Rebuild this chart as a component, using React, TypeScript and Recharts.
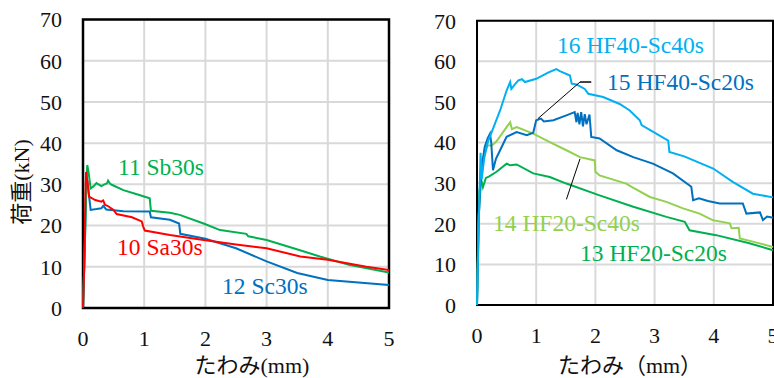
import { LineChart, Line, XAxis, YAxis, CartesianGrid, ReferenceArea, ReferenceLine } from 'recharts';

type Pt = [number, number];

const xTicks = [0, 1, 2, 3, 4, 5];
const yTicks = [0, 10, 20, 30, 40, 50, 60, 70];

// left panel: 10 Sa30s / 11 Sb30s / 12 Sc30s  (deflection mm, load kN)
const sa30s: Pt[] = [
  [0, 0], [0.02, 10], [0.04, 28], [0.05, 33], [0.07, 31], [0.1, 27], [0.2, 26.2], [0.3, 25.8],
  [0.33, 26.1], [0.36, 25], [0.4, 24.8], [0.5, 23.8], [0.55, 22.8], [0.8, 22], [0.96, 21],
  [0.985, 19.7], [1.01, 18.8], [1.42, 17.7], [1.97, 16.5], [2.5, 15.4], [3.0, 14.5], [3.55, 12.5],
  [4.0, 11.7], [4.63, 10], [5.0, 9.2],
];
const sb30s: Pt[] = [
  [0, 0], [0.03, 15], [0.06, 32], [0.07, 34.7], [0.09, 33], [0.125, 29], [0.17, 29.5], [0.22, 30.3],
  [0.3, 29.6], [0.35, 30], [0.39, 30.2], [0.41, 30.9], [0.44, 30.2], [0.47, 29.9], [0.66, 28.6],
  [0.88, 27.6], [1.09, 26.6], [1.11, 23.6], [1.42, 23.1], [1.58, 22.6], [1.97, 20.5], [2.24, 18.9],
  [2.67, 18], [2.7, 17.4], [3.0, 16.5], [3.44, 14.5], [3.87, 12.5], [4.36, 10.4], [5, 8.6],
];
const sc30s: Pt[] = [
  [0, 0], [0.03, 15], [0.05, 29], [0.07, 31], [0.1, 27], [0.125, 23.8], [0.22, 24], [0.3, 24.2],
  [0.33, 24.8], [0.38, 23.9], [0.66, 23.5], [1.09, 23.4], [1.11, 22], [1.42, 21.4], [1.57, 20.5],
  [1.59, 18], [2.0, 16.8], [2.5, 14.5], [3.0, 11.3], [3.5, 8.5], [4.0, 6.8], [4.5, 6.2], [5, 5.6],
];

// right panel: 13–16 HF series
const hf20sc20s: Pt[] = [
  [0, 0], [0.02, 18], [0.04, 28], [0.07, 31], [0.1, 29], [0.15, 31.3], [0.2, 31.6], [0.33, 32.8],
  [0.5, 34.8], [0.56, 34.4], [0.67, 34.6], [0.95, 32.4], [1.23, 31.5], [1.51, 29.9], [2.07, 27],
  [2.64, 24.2], [3.2, 21.7], [3.51, 20.5], [3.59, 18.4], [4.04, 17.2], [4.6, 15.2], [5, 13.5],
];
const hf20sc40s: Pt[] = [
  [0, 0], [0.03, 22], [0.07, 33], [0.12, 37.5], [0.18, 39.3], [0.25, 39.3], [0.33, 40.3],
  [0.5, 43.8], [0.56, 45], [0.59, 43.3], [0.67, 43.8], [0.95, 42.2], [1.23, 40.1], [1.51, 38.1],
  [1.74, 36.4], [1.99, 35.6], [2.0, 32.8], [2.07, 31.9], [2.52, 29.9], [2.62, 29], [2.92, 26.6],
  [3.2, 25.4], [3.48, 23.8], [3.76, 22.5], [3.98, 20.9], [4.27, 20.1], [4.3, 18.9], [4.42, 19],
  [4.44, 16.4], [4.66, 15.6], [5, 14.3],
];
const hf40sc20s: Pt[] = [
  [0, 0], [0.03, 22], [0.08, 34], [0.13, 38.9], [0.18, 41], [0.22, 42.2], [0.24, 40], [0.27, 33.2],
  [0.32, 36], [0.39, 38.1], [0.5, 41.4], [0.67, 42.6], [0.84, 41.8], [0.95, 42.4], [1.0, 45.5],
  [1.08, 45.9], [1.13, 45.2], [1.29, 45.5], [1.51, 46.7], [1.65, 47.5], [1.68, 45], [1.7, 47.3],
  [1.73, 44.5], [1.76, 47.5], [1.79, 44], [1.82, 47], [1.85, 44.5], [1.9, 46.9], [1.93, 41.4],
  [2.07, 41], [2.36, 38.1], [2.64, 36.4], [2.97, 34.8], [3.31, 32.4], [3.62, 29.1], [3.65, 25.8],
  [3.75, 26.3], [3.9, 25.6], [4.1, 25], [4.49, 25], [4.55, 22.5], [4.78, 22.8], [4.83, 20.9],
  [4.9, 21.8], [5, 21.5],
];
const hf40sc40s: Pt[] = [
  [0, 0], [0.03, 20], [0.06, 37.5], [0.08, 31], [0.12, 36], [0.19, 40.5], [0.25, 42.6],
  [0.39, 47.9], [0.5, 52.8], [0.56, 54.9], [0.58, 53.2], [0.65, 54.5], [0.7, 55.3], [0.76, 55.6],
  [0.81, 54.9], [1.0, 55.7], [1.2, 57.2], [1.34, 58.1], [1.4, 57.6], [1.57, 56.5], [1.6, 54.5],
  [1.68, 54.3], [1.82, 53.2], [1.88, 52], [2.13, 51.2], [2.41, 49.5], [2.58, 47.9], [2.75, 45.5],
  [2.78, 44.3], [3.23, 40.5], [3.25, 37.7], [3.5, 36.6], [3.99, 33.6], [4.32, 30.3], [4.66, 27.4],
  [5, 26.5],
];

// leader lines from the right-panel labels to their curves
const leader15: Pt[] = [[1.03, 45.9], [1.74, 54.9], [1.93, 54.9]];
const leader14: Pt[] = [[1.74, 36.0], [1.51, 26.0]];

const serif = 'Liberation Serif, Tinos, DejaVu Serif, serif';
const jpSerif = 'Liberation Serif, Tinos, Noto Sans CJK JP, serif';

const toPts = (s: Pt[]) => s.map(([x, y]) => ({ x, y }));

interface Series { name: string; color: string; pts: Pt[] }

const leftSeries: Series[] = [
  { name: '12 Sc30s', color: '#0070c0', pts: sc30s },
  { name: '11 Sb30s', color: '#00b050', pts: sb30s },
  { name: '10 Sa30s', color: '#ff0000', pts: sa30s },
];
const rightSeries: Series[] = [
  { name: '13 HF20-Sc20s', color: '#00b050', pts: hf20sc20s },
  { name: '14 HF20-Sc40s', color: '#92d050', pts: hf20sc40s },
  { name: '15 HF40-Sc20s', color: '#0070c0', pts: hf40sc20s },
  { name: '16 HF40-Sc40s', color: '#00b0f0', pts: hf40sc40s },
];

interface PanelProps {
  series: Series[];
  left: number;
  top: number;
  right: number;
  yWidth: number;
  xHeight: number;
  frameWidth: number;
  leaders?: Pt[][];
}

const tickStyle = { fontSize: 22, fill: '#111', fontFamily: serif };

function Panel({ series, left, top, right, yWidth, xHeight, frameWidth, leaders = [] }: PanelProps) {
  return (
    <div style={{ position: 'absolute', left, top: 0, fontFamily: serif }}>
      <LineChart width={400} height={378} margin={{ top, right, left: 0, bottom: 0 }} style={{ fontFamily: serif }}>
        <CartesianGrid stroke="#d9d9d9" strokeWidth={2} />
        <XAxis
          dataKey="x"
          type="number"
          domain={[0, 5]}
          ticks={xTicks}
          height={xHeight}
          axisLine={false}
          tickLine={false}
          tickSize={0}
          tickMargin={22}
          tick={tickStyle}
          allowDuplicatedCategory={false}
        />
        <YAxis
          type="number"
          domain={[0, 70]}
          ticks={yTicks}
          width={yWidth}
          axisLine={false}
          tickLine={false}
          tickSize={0}
          tickMargin={21}
          tick={tickStyle}
        />
        <ReferenceArea x1={0} x2={5} y1={0} y2={70} fill="none" stroke="#000" strokeWidth={frameWidth} />
        {series.map((s) => (
          <Line
            key={s.name}
            data={toPts(s.pts)}
            dataKey="y"
            type="linear"
            stroke={s.color}
            strokeWidth={2}
            dot={false}
            activeDot={false}
            isAnimationActive={false}
          />
        ))}
        {leaders.flatMap((l, i) =>
          l.slice(1).map((p, j) => (
            <ReferenceLine
              key={`${i}-${j}`}
              segment={[{ x: l[j][0], y: l[j][1] }, { x: p[0], y: p[1] }]}
              stroke={j === 1 ? '#404040' : '#000'}
              strokeWidth={j === 1 ? 2 : 1}
              ifOverflow="visible"
            />
          )),
        )}
      </LineChart>
    </div>
  );
}

const labelBase = {
  position: 'absolute' as const,
  fontFamily: serif,
  fontSize: 23.5,
  lineHeight: 1,
  whiteSpace: 'nowrap' as const,
};

const seriesLabels = [
  { text: '11 Sb30s', color: '#00b050', x: 118, y: 156 },
  { text: '10 Sa30s', color: '#ff0000', x: 117, y: 236 },
  { text: '12 Sc30s', color: '#0070c0', x: 222, y: 275 },
  { text: '16 HF40-Sc40s', color: '#00b0f0', x: 557, y: 34 },
  { text: '15 HF40-Sc20s', color: '#0070c0', x: 607, y: 71 },
  { text: '14 HF20-Sc40s', color: '#92d050', x: 493, y: 212 },
  { text: '13 HF20-Sc20s', color: '#00b050', x: 580, y: 242 },
];

const titleBase = {
  position: 'absolute' as const,
  fontFamily: jpSerif,
  fontSize: 22,
  lineHeight: '22px',
  color: '#111',
  textAlign: 'center' as const,
  whiteSpace: 'nowrap' as const,
};

export default function App() {
  return (
    <div
      style={{
        position: 'absolute',
        left: 0,
        top: 0,
        width: 774,
        height: 378,
        overflow: 'hidden',
        background: '#fff',
      }}
    >
      <Panel series={leftSeries} left={0} top={19.5} right={11} yWidth={83} xHeight={70} frameWidth={2.5} />
      <Panel
        series={rightSeries}
        left={400}
        top={20.7}
        right={27}
        yWidth={77}
        xHeight={73}
        frameWidth={2}
        leaders={[leader15, leader14]}
      />
      {seriesLabels.map((l) => (
        <div key={l.text} style={{ ...labelBase, left: l.x, top: l.y, color: l.color }}>
          {l.text}
        </div>
      ))}
      <div style={{ ...titleBase, left: 152, top: 355, width: 200 }}>たわみ(mm)</div>
      <div style={{ ...titleBase, left: 530, top: 355, width: 200 }}>たわみ（mm）</div>
      <div
        style={{
          ...titleBase,
          left: -48,
          top: 171,
          width: 140,
          height: 22,
          transform: 'rotate(-90deg)',
        }}
      >
        荷重(kN)
      </div>
    </div>
  );
}
